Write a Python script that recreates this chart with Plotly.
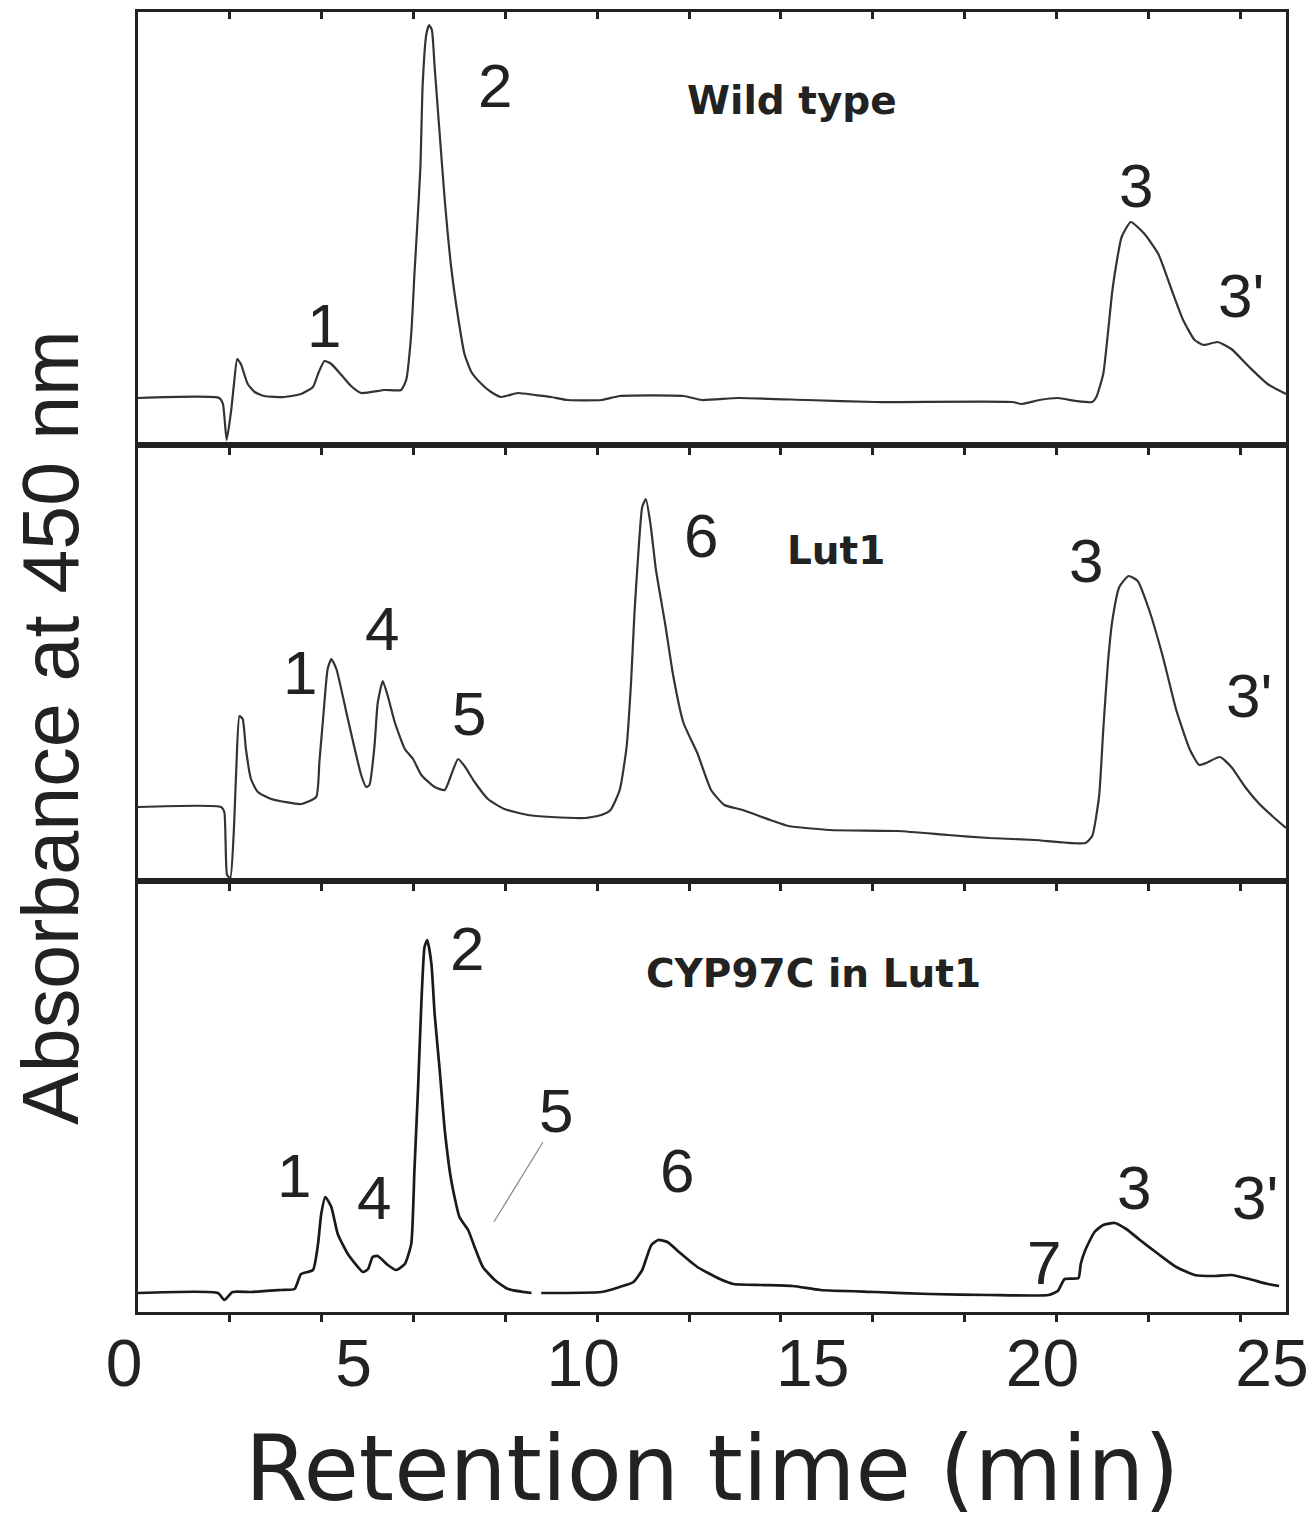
import plotly.graph_objects as go

# ---------------- data (retention time in min, absorbance in arbitrary units) ----------------
t_wt = [0.00, 1.77, 1.85, 1.93, 2.03, 2.09, 2.16, 2.24, 2.39, 2.54,
        2.75, 3.19, 3.55, 3.81, 3.92, 4.06, 4.21, 4.43, 4.64, 4.86,
        5.37, 5.73, 5.84, 5.95, 6.02, 6.08, 6.15, 6.20, 6.28, 6.34,
        6.40, 6.46, 6.57, 6.68, 6.82, 6.97, 7.11, 7.26, 7.48, 7.69,
        7.91, 8.27, 8.64, 9.00, 9.36, 10.09, 10.49, 11.88, 12.28, 13.07,
        14.56, 16.05, 19.04, 19.24, 19.63, 20.03, 20.43, 20.78, 20.87, 21.02,
        21.12, 21.22, 21.32, 21.42, 21.62, 21.92, 22.22, 22.51, 22.76, 23.01,
        23.21, 23.51, 23.81, 24.20, 24.60, 25.00]
a_wt = [47, 47, 41, 5, 35, 61, 86, 81, 61, 53,
        49, 48, 51, 58, 71, 84, 81, 70, 59, 52,
        55, 55, 65, 111, 171, 218, 278, 361, 411, 420,
        415, 378, 311, 245, 178, 128, 91, 73, 61, 53,
        48, 52, 50, 48, 45, 45, 49, 49, 45, 47,
        45, 43, 43, 41, 45, 47, 44, 43, 48, 71,
        111, 155, 185, 208, 223, 211, 191, 155, 125, 105,
        100, 103, 96, 78, 61, 51]

t_lut = [0.00, 1.81, 1.88, 1.94, 2.01, 2.09, 2.14, 2.21, 2.28, 2.35,
         2.46, 2.61, 2.90, 3.55, 3.88, 3.95, 4.03, 4.13, 4.21, 4.32,
         4.57, 4.86, 4.97, 5.04, 5.15, 5.22, 5.33, 5.44, 5.59, 5.81,
         5.99, 6.17, 6.46, 6.68, 6.82, 6.97, 7.11, 7.33, 7.62, 7.98,
         8.49, 9.00, 9.73, 10.09, 10.29, 10.49, 10.64, 10.74, 10.81, 10.89,
         10.98, 11.06, 11.16, 11.28, 11.48, 11.66, 11.88, 12.18, 12.48, 12.77,
         13.17, 13.77, 14.17, 15.06, 16.55, 17.64, 18.54, 19.53, 20.63, 20.78,
         20.93, 21.02, 21.12, 21.22, 21.37, 21.57, 21.77, 22.02, 22.32, 22.61,
         22.91, 23.11, 23.26, 23.56, 23.81, 24.11, 24.40, 24.70, 25.00]
a_lut = [74, 74, 69, 6, 3, 53, 112, 165, 162, 132,
         102, 89, 82, 77, 84, 119, 162, 212, 222, 212,
         162, 106, 94, 96, 135, 178, 200, 185, 159, 132,
         122, 106, 94, 91, 106, 122, 115, 99, 82, 72,
         66, 64, 63, 66, 71, 91, 134, 201, 267, 324,
         374, 382, 357, 311, 257, 204, 158, 128, 91, 76,
         71, 61, 55, 51, 50, 46, 43, 41, 38, 45,
         85, 151, 217, 261, 294, 305, 300, 271, 224, 171,
         131, 116, 118, 124, 114, 94, 78, 65, 53]

t_cyp = [0.00, 1.74, 1.88, 2.06, 2.46, 3.12, 3.41, 3.55, 3.81, 3.92,
         3.99, 4.08, 4.21, 4.35, 4.57, 4.90, 5.01, 5.11, 5.22, 5.44,
         5.62, 5.81, 5.95, 6.02, 6.10, 6.17, 6.24, 6.30, 6.39, 6.46,
         6.57, 6.68, 6.82, 7.00, 7.19, 7.33, 7.51, 7.77, 8.06, 8.57,
         8.68, 8.78, 10.09, 10.49, 10.79, 10.98, 11.08, 11.18, 11.33, 11.53,
         11.78, 12.18, 12.67, 12.97, 13.57, 14.26, 14.86, 16.05, 17.25, 18.54,
         19.83, 20.03, 20.18, 20.48, 20.53, 20.63, 20.83, 21.02, 21.27, 21.52,
         21.82, 22.22, 22.61, 23.01, 23.41, 23.81, 24.20, 24.60, 24.85]
a_cyp = [19, 19, 12, 20, 20, 22, 23, 38, 42, 68,
         98, 115, 105, 78, 58, 40, 43, 55, 56, 47,
         42, 48, 68, 142, 225, 308, 365, 372, 348, 298,
         242, 182, 132, 95, 82, 65, 45, 32, 23, 19,
         None, 19, 20, 25, 30, 42, 55, 67, 72, 70,
         60, 45, 33, 28, 27, 26, 22, 20, 18, 17,
         17, 21, 33, 34, 48, 62, 80, 87, 89, 83,
         72, 58, 45, 37, 36, 37, 33, 28, 26]

x_tick_labels = [0, 5, 10, 15, 20, 25]
x_minor_ticks = [2, 4, 6, 8, 10, 12, 14, 16, 18, 20, 22, 24]

sample_names = ["Wild type", "Lut1", "CYP97C in Lut1"]
sample_pos = [(14.24, 345), (15.2, 331), (14.7, 339)]

# peak labels: (panel index, text, x, y)
peak_labels = [
    (0, "1", 4.05, 120), (0, "2", 7.77, 360), (0, "3", 21.73, 260), (0, "3'", 24.02, 150),
    (1, "1", 3.53, 209), (1, "4", 5.32, 253), (1, "5", 7.20, 168), (1, "6", 12.25, 346),
    (1, "3", 20.64, 321), (1, "3'", 24.20, 186),
    (2, "1", 3.40, 137), (2, "4", 5.14, 115), (2, "2", 7.16, 364), (2, "5", 9.11, 202),
    (2, "6", 11.74, 142), (2, "7", 19.72, 50), (2, "3", 21.68, 125), (2, "3'", 24.32, 115),
]
leader_5 = [(8.82, 170), (7.75, 90)]

# ---------------- layout geometry ----------------
# the page body adds an 8 px offset on every side, so the figure is 16 px smaller
OFF = 8
W, H = 1316 - 2 * OFF, 1536 - 2 * OFF
panel_px = [(12, 445), (445, 881), (881, 1312)]   # target screen rows of panel borders
PLOT_TOP, PLOT_BOT = 12, 1312
PLOT_L, PLOT_R = 138, 1286
ML, MR = PLOT_L - OFF, (W + OFF) - PLOT_R
MT = PLOT_TOP - OFF
MB = (H + OFF) - PLOT_BOT
plot_h = PLOT_BOT - PLOT_TOP

domains = [[(PLOT_BOT - b) / plot_h, (PLOT_BOT - t) / plot_h] for (t, b) in panel_px]
yranges = [[0, b - t] for (t, b) in panel_px]

LINE = "#222222"
TRACE = "#333333"
NUM_FONT = "Liberation Sans Narrow, Arial Narrow, Liberation Sans, Arial, sans-serif"
LBL_FONT = "Liberation Sans, Arial, sans-serif"

fig = go.Figure()
series = [(t_wt, a_wt, TRACE, 2.2), (t_lut, a_lut, TRACE, 2.2), (t_cyp, a_cyp, "#1a1a1a", 2.7)]
for i, (tx, ay, col, lw) in enumerate(series):
    sfx = "" if i == 0 else str(i + 1)
    fig.add_trace(go.Scatter(x=tx, y=ay, mode="lines", xaxis="x" + sfx, yaxis="y" + sfx,
                             line=dict(color=col, width=lw, shape="spline", smoothing=0.5),
                             connectgaps=False, showlegend=False, hoverinfo="skip"))

# empty traces so that the overlaying axes are drawn
fig.add_trace(go.Scatter(x=[None], y=[None], xaxis="x4", yaxis="y", showlegend=False, hoverinfo="skip"))
fig.add_trace(go.Scatter(x=[None], y=[None], xaxis="x5", yaxis="y3", showlegend=False, hoverinfo="skip"))

common_x = dict(range=[0, 25], showgrid=False, zeroline=False, showline=True, linecolor=LINE,
                linewidth=2.5, mirror=True, ticks="outside", tickvals=x_minor_ticks, ticklen=7,
                tickwidth=2.5, tickcolor=LINE, showticklabels=False, automargin=False)
layout = dict(width=W, height=H, margin=dict(l=ML, r=MR, t=MT, b=MB, autoexpand=False),
              plot_bgcolor="white", paper_bgcolor="white", showlegend=False)
for i in range(3):
    sfx = "" if i == 0 else str(i + 1)
    layout["xaxis" + sfx] = dict(common_x, anchor="y" + sfx, domain=[0, 1])
    layout["yaxis" + sfx] = dict(domain=domains[i], range=yranges[i], anchor="x" + sfx,
                                 showgrid=False, zeroline=False, showline=True, linecolor=LINE,
                                 linewidth=2.5, mirror=True, ticks="", showticklabels=False,
                                 automargin=False)
layout["xaxis4"] = dict(range=[0, 25], overlaying="x", anchor="y", side="top", showgrid=False,
                        zeroline=False, showline=False, ticks="inside", tickvals=x_minor_ticks,
                        ticklen=7, tickwidth=2.5, tickcolor=LINE, showticklabels=False,
                        automargin=False)
layout["xaxis5"] = dict(range=[0, 25], overlaying="x3", anchor="y3", side="bottom", showgrid=False,
                        zeroline=False, showline=False, ticks="", tickvals=x_tick_labels,
                        ticktext=[str(v) for v in x_tick_labels], ticklabelstandoff=7,
                        ticklabelshift=-14, ticklabeloverflow="allow", automargin=False,
                        tickfont=dict(family=NUM_FONT, size=66, color="#222222"))
fig.update_layout(**layout)

anns = []
for i, (name, (px, py)) in enumerate(zip(sample_names, sample_pos)):
    sfx = "" if i == 0 else str(i + 1)
    anns.append(dict(x=px, y=py, xref="x" + sfx, yref="y" + sfx, text="<b>" + name + "</b>",
                     showarrow=False, xanchor="center", yanchor="middle",
                     font=dict(family="DejaVu Sans, sans-serif", size=39, color="#222222")))
for (pi, txt, px, py) in peak_labels:
    sfx = "" if pi == 0 else str(pi + 1)
    anns.append(dict(x=px, y=py, xref="x" + sfx, yref="y" + sfx, text=txt, showarrow=False,
                     xanchor="center", yanchor="middle",
                     font=dict(family=LBL_FONT, size=62, color="#222222")))
# axis titles (paper coords)
paper_w = PLOT_R - PLOT_L
ytitle_x = (50 - PLOT_L) / paper_w
ytitle_y = (PLOT_BOT - 728) / plot_h
xtitle_y = (PLOT_BOT - 1468) / plot_h
anns.append(dict(x=ytitle_x, y=ytitle_y, xref="paper", yref="paper", text="Absorbance at 450 nm",
                 textangle=-90, showarrow=False, xanchor="center", yanchor="middle",
                 font=dict(family="Liberation Sans, Arial, sans-serif", size=79, color="#222222")))
anns.append(dict(x=0.5, y=xtitle_y, xref="paper", yref="paper", text="Retention time (min)",
                 showarrow=False, xanchor="center", yanchor="middle",
                 font=dict(family="DejaVu Sans, sans-serif", size=90, color="#222222")))
fig.update_layout(annotations=anns)

fig.add_shape(type="line", xref="x3", yref="y3", x0=leader_5[0][0], y0=leader_5[0][1],
              x1=leader_5[1][0], y1=leader_5[1][1], line=dict(color="#888888", width=1.2))

fig.write_html("out.html")
